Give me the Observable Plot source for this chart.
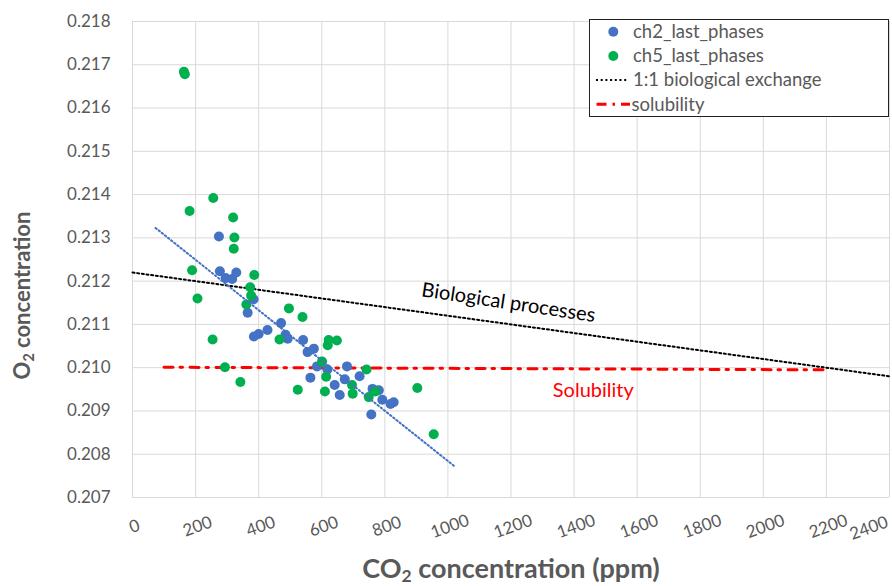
<!DOCTYPE html>
<html><head><meta charset="utf-8">
<script src="https://cdn.jsdelivr.net/npm/d3@7"></script>
<script src="https://cdn.jsdelivr.net/npm/@observablehq/plot@0.6"></script>
<style>
body{margin:0;background:#fff;}
#wrap{position:relative;width:892px;height:586px;font-family:Lato,"Open Sans",sans-serif;}
#legend{position:absolute;left:589px;top:19px;}
</style></head><body><div id="wrap"></div>
<script>
// ch2_last_phases
const ch2CO2 = [274,277,295,316,329,384,365,471,428,400,385,485,492,541,555,575,585,618,564,680,673,641,657,720,761,781,792,818,828,757];
const ch2O2 = [0.21303,0.21223,0.21207,0.21205,0.21220,0.21158,0.21127,0.21103,0.21087,0.21078,0.21072,0.21076,0.21067,0.21064,0.21036,0.21044,0.21003,0.20996,0.20977,0.21003,0.20973,0.20960,0.20937,0.20980,0.20951,0.20948,0.20926,0.20916,0.20920,0.20892];
// ch5_last_phases
const ch5CO2 = [163,166,256,181,319,323,321,189,386,206,373,376,361,496,539,254,466,622,619,648,293,342,524,601,614,610,696,698,742,770,749,903,955];
const ch5O2 = [0.21684,0.21678,0.21392,0.21362,0.21347,0.21301,0.21275,0.21225,0.21214,0.21160,0.21186,0.21167,0.21146,0.21137,0.21117,0.21065,0.21065,0.21064,0.21052,0.21063,0.21001,0.20967,0.20949,0.21014,0.20979,0.20945,0.20960,0.20940,0.20996,0.20945,0.20932,0.20953,0.20846];
// 1:1 biological exchange
const bioCO2 = [0, 2400];
const bioO2 = [0.2122, 0.2098];
// solubility
const solCO2 = [100, 2200];
const solO2 = [0.21001, 0.20995];
// ch2 linear trendline
const trendCO2 = [73, 1021];
const trendO2 = [0.21323, 0.20772];
// ticks
const xTicks = [0,200,400,600,800,1000,1200,1400,1600,1800,2000,2200,2400];
const yTicks = [0.207,0.208,0.209,0.210,0.211,0.212,0.213,0.214,0.215,0.216,0.217,0.218];
// annotations
const annoText = ["Biological processes", "Solubility"];
const annoCO2 = [1192, 1461];
const annoO2 = [0.21150, 0.20947];
const legendLabels = ["ch2_last_phases","ch5_last_phases","1:1 biological exchange","solubility"];
const xTitle = ["CO", "2", " concentration (ppm)"];
const yTitle = ["O", "2", " concentration"];

const pts = (xs, ys) => xs.map((x, i) => ({x, y: ys[i]}));
const ch2 = pts(ch2CO2, ch2O2), ch5 = pts(ch5CO2, ch5O2);
const bio = pts(bioCO2, bioO2), sol = pts(solCO2, solO2), trend = pts(trendCO2, trendO2);
const anno = annoText.map((t, i) => ({t, x: annoCO2[i], y: annoO2[i]}));
const xTicksInner = xTicks.slice(0, -1), xTicksLast = xTicks.slice(-1);

const GRAY = "#595959";
const FONT = "Lato, 'Open Sans', sans-serif";
const plot = Plot.plot({
  width: 892, height: 586,
  marginLeft: 132, marginRight: 3, marginTop: 21, marginBottom: 89,
  style: {fontFamily: FONT, background: "#fff", color: GRAY},
  x: {domain: [0, 2400], axis: null},
  y: {domain: [0.207, 0.218], axis: null},
  marks: [
    Plot.gridX({ticks: xTicks, stroke: "#d9d9d9", strokeOpacity: 1, strokeWidth: 1}),
    Plot.gridY({ticks: yTicks, stroke: "#d9d9d9", strokeOpacity: 1, strokeWidth: 1}),
    Plot.axisY({ticks: yTicks, tickFormat: d3.format(".3f"), tickSize: 0, tickPadding: 22, fontSize: 17, fill: GRAY, label: null}),
    Plot.text(xTicksInner, {x: d => d, frameAnchor: "bottom", text: d => String(d), rotate: -20, textAnchor: "middle", lineAnchor: "middle", dx: 2, dy: 29, fontSize: 17, fill: GRAY}),
    Plot.text(xTicksLast, {x: d => d, frameAnchor: "bottom", text: d => String(d), rotate: -20, textAnchor: "end", lineAnchor: "middle", dx: -2, dy: 24, fontSize: 17, fill: GRAY}),
    Plot.line(bio, {x: "x", y: "y", stroke: "#000", strokeWidth: 2, strokeDasharray: "2,2.7"}),
    Plot.line(sol, {x: "x", y: "y", stroke: "#ff0000", strokeWidth: 3, strokeDasharray: "9,7,2.5,7.5"}),
    Plot.dot(ch2, {x: "x", y: "y", r: 5, fill: "#4472C4"}),
    Plot.dot(ch5, {x: "x", y: "y", r: 5, fill: "#00B050"}),
    Plot.line(trend, {x: "x", y: "y", stroke: "#4472C4", strokeWidth: 2, strokeDasharray: "1.5,2.5"}),
    Plot.text(anno, {x: "x", y: "y", text: "t", rotate: d => d.t === annoText[0] ? 8.5 : 0, fill: d => d.t === annoText[0] ? "#000" : "#ff0000", fontSize: 20}),
    Plot.text([xTitle.join("")], {text: d => d, frameAnchor: "bottom", textAnchor: "middle", lineAnchor: "bottom", dy: 80, fontSize: 27, fontWeight: "bold", fill: GRAY}),
    Plot.text([yTitle.join("")], {text: d => d, frameAnchor: "left", textAnchor: "middle", rotate: -90, dx: -110, dy: 36, fontSize: 22, fontWeight: "bold", fill: GRAY})
  ]
});

function subscript(parts) {
  const full = parts.join("");
  d3.select(plot).selectAll("text").filter(function() { return this.textContent === full; }).each(function() {
    const t = d3.select(this);
    t.text(null);
    t.append("tspan").text(parts[0]);
    t.append("tspan").attr("dy", 4).attr("font-size", "65%").text(parts[1]);
    t.append("tspan").attr("dy", -4).text(parts[2]);
  });
}
subscript(xTitle);
subscript(yTitle);

const wrap = document.getElementById("wrap");
wrap.appendChild(plot);

// legend
const lg = d3.select(wrap).append("svg").attr("id", "legend").attr("width", 300).attr("height", 99);
lg.append("rect").attr("x", 0.5).attr("y", 0.5).attr("width", 299).attr("height", 97).attr("fill", "#fff").attr("stroke", "#222");
const rowY = [12.7, 37, 61, 85.3];
lg.append("circle").attr("cx", 24.3).attr("cy", rowY[0]).attr("r", 5).attr("fill", "#4472C4");
lg.append("circle").attr("cx", 24.3).attr("cy", rowY[1]).attr("r", 5).attr("fill", "#00B050");
lg.append("line").attr("x1", 7).attr("x2", 39).attr("y1", rowY[2]).attr("y2", rowY[2]).attr("stroke", "#000").attr("stroke-width", 2).attr("stroke-dasharray", "2,2.7");
lg.append("line").attr("x1", 7.5).attr("x2", 41).attr("y1", rowY[3]).attr("y2", rowY[3]).attr("stroke", "#ff0000").attr("stroke-width", 3).attr("stroke-dasharray", "10,6,2.5,6,10");
legendLabels.forEach((s, i) => {
  lg.append("text").attr("x", i === 3 ? 42.5 : 44).attr("y", rowY[i] + 6.3).attr("font-size", 18.5).attr("fill", GRAY)
    .attr("font-family", FONT).text(s);
});
</script>
</body></html>
